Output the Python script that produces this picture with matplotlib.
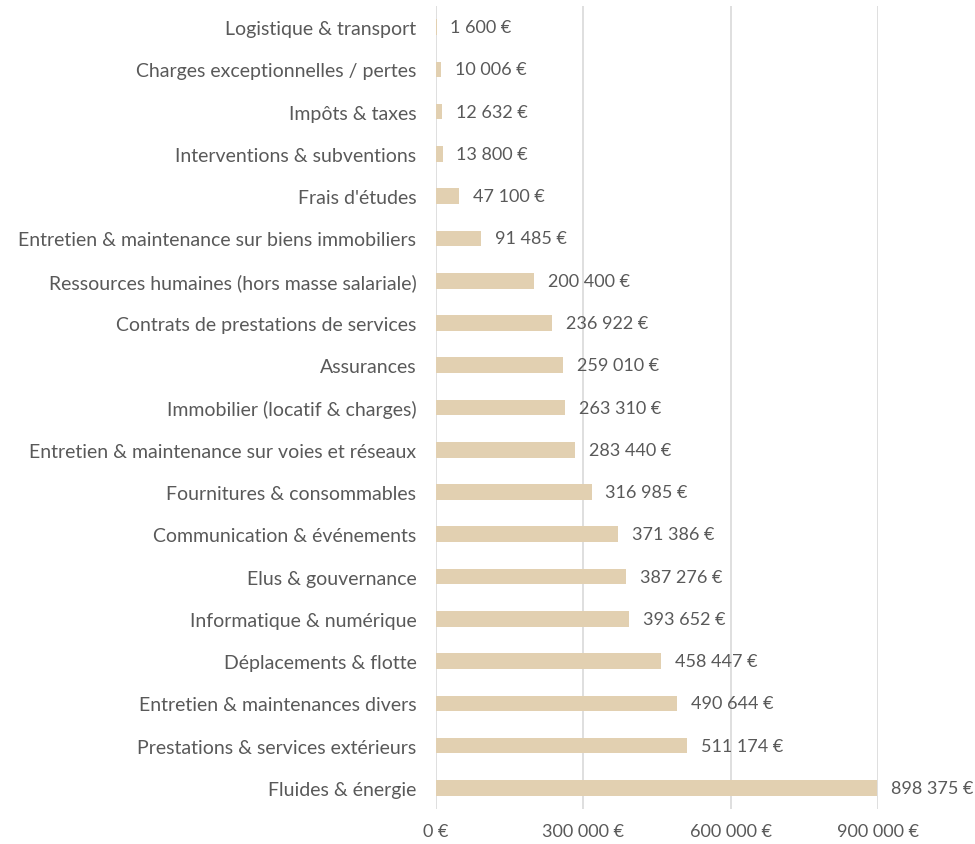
import matplotlib.pyplot as plt
from matplotlib.ticker import FuncFormatter

plt.rcParams['font.family'] = ['Lato', 'DejaVu Sans']

# Budget lines, top to bottom as displayed
categories = [
    "Logistique & transport",
    "Charges exceptionnelles / pertes",
    "Impôts & taxes",
    "Interventions & subventions",
    "Frais d'études",
    "Entretien & maintenance sur biens immobiliers",
    "Ressources humaines (hors masse salariale)",
    "Contrats de prestations de services",
    "Assurances",
    "Immobilier (locatif & charges)",
    "Entretien & maintenance sur voies et réseaux",
    "Fournitures & consommables",
    "Communication & événements",
    "Elus & gouvernance",
    "Informatique & numérique",
    "Déplacements & flotte",
    "Entretien & maintenances divers",
    "Prestations & services extérieurs",
    "Fluides & énergie",
]
amounts = [
    1600, 10006, 12632, 13800, 47100, 91485, 200400, 236922, 259010,
    263310, 283440, 316985, 371386, 387276, 393652, 458447, 490644,
    511174, 898375,
]
x_ticks = [0, 300000, 600000, 900000]

BAR = "#E2D0B1"
TEXT = "#595959"
GRID = "#D9D9D9"


def euro(v, _pos=None):
    return f"{int(v):,} €".replace(",", " ")


fig = plt.figure(figsize=(9.75, 8.45), dpi=100)
ax = fig.add_axes([0.447, 0.0414, 0.4535, 0.9503])

ypos = list(range(len(categories)))
ax.barh(ypos, amounts, height=0.37, color=BAR, zorder=2)
ax.set_ylim(len(categories) - 0.5, -0.5)
ax.set_xlim(0, 900000)

for y, v in zip(ypos, amounts):
    ax.annotate(euro(v), (v, y), xytext=(10, 0), textcoords="offset points",
                va="center", ha="left", fontsize=13, color=TEXT, zorder=3)

ax.set_yticks(ypos)
ax.set_yticklabels(categories, fontsize=14, color=TEXT)
ax.set_xticks(x_ticks)
ax.xaxis.set_major_formatter(FuncFormatter(euro))
ax.tick_params(axis="x", labelsize=13, labelcolor=TEXT, length=0, pad=10)
ax.tick_params(axis="y", length=0, pad=14)

ax.grid(axis="x", color=GRID, linewidth=1.2, zorder=0)
for s in ax.spines.values():
    s.set_visible(False)

fig.savefig("out.png", dpi=100, facecolor="white")
